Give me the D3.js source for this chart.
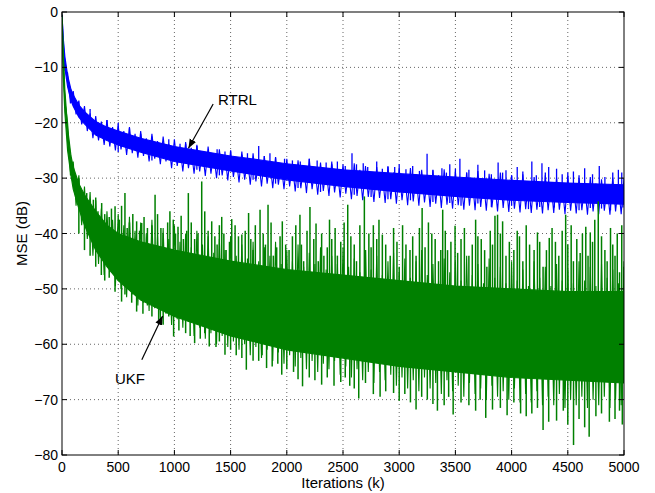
<!DOCTYPE html>
<html><head><meta charset="utf-8">
<script src="https://cdn.jsdelivr.net/npm/d3@7"></script>
<style>
body{margin:0;background:#fff}
text{font-family:"Liberation Sans",Arial,Helvetica,sans-serif;fill:#000}
</style>
</head><body>
<svg id="chart" width="655" height="493"></svg>
<script>
// ---------- data ----------
const envIter = [0,10,25,50,80,100,150,200,300,400,500,700,1000,1500,2000,2500,3000,3500,4000,4500,5000];
// RTRL dense band (upper / lower edge, dB)
const rtrlHigh = [-0.5,-4.5,-8,-11.5,-14,-15,-16.8,-18,-19.8,-20.8,-21.5,-22.8,-24.3,-26,-27.4,-28.5,-29.2,-29.8,-30.4,-30.9,-31.2];
const rtrlLow  = [-2.5,-6.5,-10,-13.5,-16,-17,-19,-20.2,-22.2,-23.2,-24,-25.3,-27,-28.7,-30.3,-31.5,-32.5,-33.3,-34,-34.4,-34.7];
// UKF dense band (upper / lower edge, dB)
const ukfHigh = [-0.5,-7,-14,-21,-26,-28,-31,-33,-36,-38.5,-40,-41.5,-43,-45,-46.5,-47.5,-48.5,-49.5,-50,-50.5,-50.5];
const ukfLow  = [-3,-11,-18,-25,-29.5,-32,-35.5,-38.5,-43,-46,-48.5,-52,-55,-58.5,-61,-62.5,-64,-65,-66,-66.5,-67];

// sampled trace: upper swings at iterations 0,50,100,... and lower swings at 25,75,125,...
const rtrlSwingUp = [-0.5,-11,-14.3,-16,-17,-18.3,-18.8,-19.8,-19.5,-20.8,-20.5,-21.5,-20.8,-22,-21.5,-22.8,-22,-23.3,-22.5,-23.8,
  -23,-24.3,-23.5,-24.8,-24,-25.2,-24.3,-25.5,-24.8,-25.8,-25,-26.3,-25.2,-26.5,-25.5,-26.8,-26,-27,-26.2,-27.3,
  -26.5,-27.5,-26.8,-27.8,-26.5,-28,-27.2,-28.3,-27,-28.5,-27.5,-28.8,-27.3,-28.5,-27.8,-29,-28,-29.2,-27.8,-29,
  -28.3,-29.5,-28.2,-29.3,-28.5,-29.8,-28.6,-29.5,-28.4,-30,-28.8,-30.2,-29,-30,-28.7,-30.3,-29.2,-30.5,-29,-30.4,
  -29.5,-30.8,-29.3,-30.6,-29.8,-31,-29.5,-30.8,-29.9,-31.2,-29.6,-31,-30,-31.3,-29.8,-31,-30.2,-31.5,-29.9,-31.2,-30];
const rtrlSwingDown = [-10.5,-16.5,-18.5,-20.3,-21.5,-22.8,-23.2,-24,-24.3,-25,-24.8,-25.8,-25.5,-26.3,-26,-27,-26.5,-27.5,-27,-28.2,
  -27.8,-28.8,-28.2,-29.2,-28.8,-29.6,-29.2,-30,-29.5,-30.4,-29.8,-30.8,-30.3,-31.2,-30.6,-31.5,-31,-31.8,-31.2,-32,
  -31.5,-32.4,-31.8,-32.7,-32,-33,-32.3,-33.2,-32.6,-33.5,-32.8,-33.8,-33.2,-34,-33.4,-34.3,-33.6,-34.5,-33.8,-34.6,
  -34,-34.9,-34.2,-35,-34.4,-35.2,-34.6,-35.4,-34.8,-35.5,-34.9,-35.7,-35,-35.8,-35.2,-35.9,-35.3,-36,-35.4,-36.1,
  -35.5,-36.2,-35.6,-36.3,-35.7,-36.4,-35.8,-36.3,-35.7,-36.5,-35.9,-36.4,-35.8,-36.6,-36,-36.5,-35.9,-36.6,-36,-36.5];
const ukfSwingUp = [-1,-20,-27,-29.5,-31.5,-32.5,-34,-35.5,-36,-37.5,-36.5,-38.5,-37,-39.5,-38,-40,-37.5,-40.5,-39,-41,
  -38.5,-41.5,-40,-42.5,-39.5,-42,-40.5,-43.5,-41,-43,-40.5,-44,-42,-44.5,-41.5,-45,-42.5,-44,-41.5,-45.5,
  -43,-45,-42,-46,-43.5,-45.5,-42.5,-46.5,-44,-45.5,-42.5,-46,-44.5,-47,-43,-46.5,-44,-47.5,-45,-43.5,
  -47,-44.5,-48,-45,-43,-47.5,-45.5,-48.5,-44.5,-47,-45,-48.5,-44,-47.5,-45.5,-49,-44.5,-48,-46,-49,
  -45,-48.5,-46.5,-49.5,-45,-48,-46,-49.5,-45.5,-48.5,-46.5,-49,-45,-48.5,-46,-49.5,-45.5,-48,-46.5,-49,-45];
const ukfSwingDown = [-16,-29.5,-35,-38.5,-41,-44,-45.5,-47.5,-47,-49.5,-50,-51.5,-51,-53,-52.5,-54,-53.5,-55.5,-54.5,-56.5,
  -55.5,-57,-56,-58.5,-57,-59,-58,-60,-58.5,-60.5,-59.5,-61,-60,-62,-60.5,-62.5,-61,-63,-61.5,-63.5,
  -62,-64,-62.5,-64.5,-63,-65,-63.5,-64.5,-63,-65.5,-64,-66,-64.5,-66.5,-65,-67,-65,-66.5,-65.5,-67.5,
  -66,-68,-66.5,-68.5,-66,-68,-67,-69,-66.5,-68.5,-67.5,-69.5,-67,-69,-68,-70,-67.5,-69.5,-68.5,-70,
  -68,-70.5,-69,-70.5,-68.5,-71,-69.5,-71,-69,-71.5,-70,-71,-69.5,-71.5,-70,-71,-69.5,-71.5,-70,-71];

// excursions beyond the band [iteration, dB]
const rtrlPeaks = [[400,-19.5],[600,-21],[900,-23.5],[1150,-24.5],[1300,-25.5],[1750,-24.2],[2050,-26.8],[2200,-26.5],[2580,-25.5],[2800,-27],[3000,-27.5],[3248,-25.6],[3540,-26.5],[3700,-27.6],[3880,-27.2],[4050,-28],[4180,-27],[4270,-27.3],[4400,-28.3],[4780,-27.8],[4900,-29],
  [700,-22],[1050,-23.8],[1450,-25.2],[1600,-25.8],[1900,-26.3],[2350,-27.2],[2450,-27],[2680,-27.3],[2900,-28],[3120,-27.8],[3380,-28.2],[3450,-27.5],[3620,-28.5],[3950,-28.6],[4330,-28],[4550,-28.8],[4650,-28.2],[4950,-28.5],
  [250,-17.5],[500,-20],[800,-22.5],[950,-23],[1100,-23.8],[1200,-24.2],[1380,-24.8],[1500,-25],[1650,-25.5],[1800,-26],[1850,-25.5],[1980,-26.5],[2120,-27],[2270,-26.8],[2400,-27.5],[2520,-27.8],[2620,-27.5],[2720,-28],[2850,-28.3],[2960,-28],[3060,-28.4],[3180,-28.7],[3300,-28.5],[3420,-29],[3500,-28.3],[3600,-29],[3760,-28.6],[3820,-29.3],[3920,-29],[4000,-29.5],[4100,-28.8],[4220,-29.5],[4300,-29],[4450,-29.3],[4500,-29],[4600,-29.5],[4720,-29.3],[4830,-29.8],[4980,-29]];
const rtrlDips = [[500,-25.3],[800,-26.8],[1200,-28.5],[1700,-30.3],[2100,-31.8],[2600,-33],[2900,-33.8],[3300,-34.3],[3550,-35],[3820,-35.2],[4150,-35.6],[4380,-35.3],[4600,-35.8],[4800,-35.5],[4990,-35.3],
  [1400,-29.5],[1900,-31],[2300,-32.5],[2750,-33.4],[3100,-34],[3450,-34.5],[3700,-34.6],[4000,-35],[4250,-35.2],[4700,-35.4],[4880,-35.8]];
const ukfPeaks = [[150,-30],[220,-32.7],[279,-33.9],[320,-36],[353,-34.5],[420,-37],[472,-35.1],[560,-32.7],[600,-38],[664,-37.8],[709,-38.1],[760,-39],[828,-33],[900,-40],[990,-37.5],[1032,-38.8],[1080,-41],[1124,-32.7],[1180,-41],[1243,-30.6],[1332,-37.8],[1380,-42],[1421,-37],[1460,-43],[1510,-37.4],[1570,-40.5],[1600,-40.2],[1660,-36.3],[1700,-43],[1762,-35.7],[1833,-34.8],[1880,-44],[1940,-40.5],[1990,-42],[2020,-43],[2117,-36.6],[2150,-45],[2206,-35.2],[2280,-45],[2330,-44],[2400,-41],[2450,-44],[2542,-34.8],[2620,-45],[2690,-33.3],[2700,-43],[2770,-38.5],[2820,-37.5],[2850,-40.2],[2920,-44],[3000,-46],[3096,-43],[3150,-44],[3204,-35.4],[3290,-40],[3350,-45],[3387,-35.7],[3430,-43],[3497,-38.6],[3550,-41],[3620,-44],[3700,-40.5],[3780,-46],[3852,-36.8],[3875,-36.6],[3950,-44],[4050,-39.5],[4100,-45],[4200,-43],[4280,-46],[4335,-40.8],[4420,-44],[4481,-36.6],[4550,-45],[4630,-40],[4680,-44],[4700,-39.8],[4771,-34.2],[4850,-45],[4920,-44],[4960,-47],[5000,-46],
  [240,-35.5],[300,-33.5],[380,-36.5],[440,-35.5],[510,-37.5],[530,-35],[580,-39],[630,-36.5],[690,-39.5],[730,-37],[800,-38.5],[850,-36.5],[880,-39],[940,-38],[960,-36],[1010,-40],[1060,-36.8],[1110,-39.5],[1150,-38],[1210,-40],[1270,-36],[1300,-39.5],[1360,-40.5],[1400,-38.5],[1440,-40],[1490,-41.5],[1540,-38.5],[1630,-39.5],[1680,-41],[1720,-38.5],[1790,-40],[1810,-42],[1860,-38],[1910,-42.5],[1960,-37.8],[2050,-40.5],[2080,-38.5],[2130,-42],[2180,-39.5],[2240,-41],[2260,-38.2],[2310,-40],[2360,-42.5],[2380,-37.5],[2430,-39],[2480,-41.5],[2510,-38],[2570,-40.5],[2600,-42],[2650,-38.5],[2730,-40],[2750,-42.5],[2800,-41],[2880,-42],[2950,-39],[2980,-41.5],[3030,-38.5],[3060,-42],[3120,-40.5],[3180,-39],[3230,-42.5],[3260,-38],[3320,-41],[3370,-43],[3410,-39.5],[3460,-41.5],[3520,-43.5],[3580,-39],[3650,-42],[3680,-37.5],[3730,-41],[3760,-43],[3810,-39.5],[3830,-42],[3900,-40],[3920,-37.8],[3980,-41.5],[4020,-43],[4070,-40.5],[4130,-38.5],[4160,-42],[4230,-39.8],[4250,-41.5],[4310,-43],[4360,-39],[4390,-41.5],[4450,-39.5],[4500,-42],[4530,-38.5],[4580,-41],[4610,-43.5],[4660,-38.8],[4720,-41.5],[4740,-37.5],[4800,-40.5],[4830,-43],[4880,-39],[4900,-42],[4940,-40],[4980,-38.5]];
const ukfDips = [[150,-40],[200,-43],[300,-46],[380,-48.5],[472,-50.5],[530,-52.3],[664,-54.1],[800,-55],[860,-55.6],[993,-58.6],[1100,-58],[1180,-59.8],[1310,-60.4],[1450,-61.9],[1550,-62],[1640,-64.6],[1750,-63],[1820,-64.3],[1955,-65.5],[2140,-67.6],[2200,-66],[2310,-67.3],[2480,-66.8],[2560,-67.5],[2640,-69.8],[2770,-69],[2880,-68.5],[3000,-70.2],[3150,-71.8],[3250,-70],[3340,-72],[3480,-72.7],[3620,-71],[3770,-73.3],[3900,-71.5],[4080,-72.5],[4180,-72.5],[4280,-75.5],[4400,-73.8],[4551,-78.2],[4690,-76.7],[4750,-73],[4870,-74],[4985,-74.5],
  [250,-44],[350,-47.5],[420,-48],[560,-51],[620,-52.5],[720,-54.5],[760,-53],[900,-56.5],[950,-55],[1040,-57.5],[1140,-58.5],[1230,-59],[1270,-58],[1370,-60.5],[1400,-59.5],[1500,-61],[1600,-62.5],[1700,-63],[1780,-62],[1870,-64],[1920,-63.5],[2000,-64.5],[2060,-65],[2100,-66.3],[2250,-66.5],[2360,-66],[2420,-67.5],[2520,-66],[2600,-68],[2700,-67],[2830,-69.5],[2950,-68.8],[3050,-69],[3100,-70.5],[3200,-69.5],[3300,-70.8],[3400,-71],[3440,-69.5],[3550,-70.5],[3680,-72],[3720,-70],[3830,-71.8],[3960,-72.8],[4020,-70.5],[4130,-73],[4230,-71.5],[4330,-74],[4460,-72],[4500,-74.5],[4600,-73.5],[4650,-75],[4800,-72.5],[4920,-73.5],[4960,-72]];
const iterTicks = [0,500,1000,1500,2000,2500,3000,3500,4000,4500,5000];
const mseTicks = [0,-10,-20,-30,-40,-50,-60,-70,-80];
const swingStep = 50;

// ---------- layout ----------
const W = 655, H = 493;
const L = 62, R = 624, T = 12, B = 455;
const svg = d3.select("#chart");
const x = d3.scaleLinear().domain([0,5000]).range([L,R]);
const y = d3.scaleLinear().domain([-80,0]).range([B,T]);

svg.append("rect").attr("width",W).attr("height",H).attr("fill","#fff");
const defs = svg.append("defs");
defs.append("clipPath").attr("id","plot")
  .append("rect").attr("x",L).attr("y",T).attr("width",R-L).attr("height",B-T);

// grid (dotted)
const grid = svg.append("g");
grid.selectAll(".gx").data(iterTicks.slice(1,-1)).enter().append("line")
  .attr("x1",d=>x(d)).attr("x2",d=>x(d)).attr("y1",T).attr("y2",B)
  .attr("stroke","#666").attr("stroke-width",1).attr("stroke-dasharray","1,3");
grid.selectAll(".gy").data(mseTicks.slice(1,-1)).enter().append("line")
  .attr("y1",d=>y(d)).attr("y2",d=>y(d)).attr("x1",L).attr("x2",R)
  .attr("stroke","#666").attr("stroke-width",1).attr("stroke-dasharray","1,3");

// series
function drawSeries(hi, lo, up, down, peaks, dips, color, sw){
  const g = svg.append("g").attr("clip-path","url(#plot)");
  const band = envIter.map((k,i)=>({k, hi:hi[i], lo:lo[i]}));
  const mid = d3.scaleLinear().domain(envIter).range(envIter.map((k,i)=>(hi[i]+lo[i])/2));
  g.append("path").datum(band)
    .attr("d", d3.area().x(d=>x(d.k)).y0(d=>y(d.lo)).y1(d=>y(d.hi)))
    .attr("fill",color).attr("stroke",color).attr("stroke-width",1.2);
  const trace = [];
  up.forEach((v,i)=>{
    trace.push([i*swingStep, v]);
    if (i < down.length) trace.push([i*swingStep + swingStep/2, down[i]]);
  });
  g.append("path").datum(trace)
    .attr("d", d3.line().x(d=>x(d[0])).y(d=>y(d[1])))
    .attr("fill","none").attr("stroke",color).attr("stroke-width",1.1);
  g.selectAll(".sp").data(peaks.concat(dips)).enter().append("line")
    .attr("x1",d=>x(d[0])).attr("x2",d=>x(d[0]))
    .attr("y1",d=>y(mid(d[0]))).attr("y2",d=>y(d[1]))
    .attr("stroke",color).attr("stroke-width",sw);
}
drawSeries(rtrlHigh, rtrlLow, rtrlSwingUp, rtrlSwingDown, rtrlPeaks, rtrlDips, "#0000ff", 1.3);
drawSeries(ukfHigh, ukfLow, ukfSwingUp, ukfSwingDown, ukfPeaks, ukfDips, "#008000", 1.5);

// frame
svg.append("rect").attr("x",L).attr("y",T).attr("width",R-L).attr("height",B-T)
  .attr("fill","none").attr("stroke","#000").attr("stroke-width",1);

// axes with inward ticks
const ax = svg.append("g");
const tl = 5;
iterTicks.forEach(t=>{
  ax.append("line").attr("x1",x(t)).attr("x2",x(t)).attr("y1",B).attr("y2",B-tl).attr("stroke","#000");
  ax.append("line").attr("x1",x(t)).attr("x2",x(t)).attr("y1",T).attr("y2",T+tl).attr("stroke","#000");
  ax.append("text").attr("x",x(t)).attr("y",B+17).attr("text-anchor","middle")
    .attr("font-size",14).text(t);
});
mseTicks.forEach(t=>{
  ax.append("line").attr("y1",y(t)).attr("y2",y(t)).attr("x1",L).attr("x2",L+tl).attr("stroke","#000");
  ax.append("line").attr("y1",y(t)).attr("y2",y(t)).attr("x1",R).attr("x2",R-tl).attr("stroke","#000");
  ax.append("text").attr("x",L-4).attr("y",y(t)).attr("dy","0.36em").attr("text-anchor","end")
    .attr("font-size",14).text(t===0?"0":"\u2212"+Math.abs(t));
});
svg.append("text").attr("x",(L+R)/2).attr("y",488).attr("text-anchor","middle")
  .attr("font-size",15).text("Iterations (k)");
svg.append("text").attr("transform","translate(27,"+((T+B)/2)+") rotate(-90)")
  .attr("text-anchor","middle").attr("font-size",15).text("MSE (dB)");

// annotations
defs.append("marker").attr("id","ah").attr("viewBox","0 0 10 10").attr("refX",10).attr("refY",5)
  .attr("markerWidth",9).attr("markerHeight",9).attr("markerUnits","userSpaceOnUse").attr("orient","auto")
  .append("path").attr("d","M0,1 L10,5 L0,9 Z").attr("fill","#000");
function arrow(k0,v0,k1,v1){
  svg.append("line").attr("x1",x(k0)).attr("y1",y(v0)).attr("x2",x(k1)).attr("y2",y(v1))
    .attr("stroke","#000").attr("stroke-width",1.2).attr("marker-end","url(#ah)");
}
arrow(1345,-16.6,1125,-24.6);
arrow(710,-62.8,895,-54.9);
svg.append("text").attr("x",218).attr("y",105).attr("font-size",15).text("RTRL");
svg.append("text").attr("x",115).attr("y",384).attr("font-size",15).text("UKF");
</script>
</body></html>
